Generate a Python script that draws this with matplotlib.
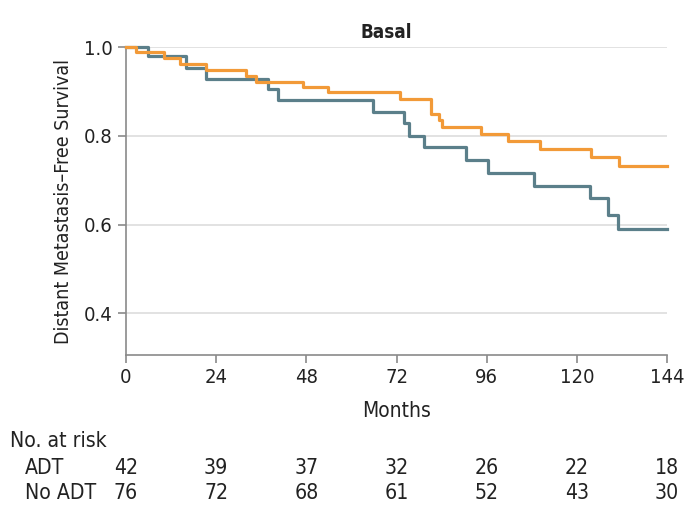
import matplotlib
matplotlib.use("Agg")
import matplotlib.pyplot as plt

plt.rcParams['font.family'] = ['DejaVu Sans']
plt.rcParams['font.stretch'] = 'condensed'

# Kaplan-Meier step points (months, survival)
adt_months = [0, 2.7, 10.1, 14.4, 21.3, 31.9, 34.5, 47.2, 53.7, 72.9, 81.2, 83.4, 84.2,
              94.4, 101.8, 110.2, 123.7, 131.3, 144]
adt_surv = [1.0, 0.988, 0.975, 0.961, 0.948, 0.935, 0.922, 0.910, 0.898, 0.882, 0.849,
            0.835, 0.820, 0.805, 0.788, 0.771, 0.753, 0.732, 0.732]

noadt_months = [0, 5.9, 16.0, 21.3, 37.9, 40.4, 65.8, 74.0, 75.2, 79.4, 90.4, 96.3,
                108.6, 123.5, 128.2, 131.0, 144]
noadt_surv = [1.0, 0.980, 0.953, 0.929, 0.905, 0.880, 0.854, 0.828, 0.800, 0.775,
              0.745, 0.717, 0.687, 0.659, 0.621, 0.591, 0.591]

risk_times = [0, 24, 48, 72, 96, 120, 144]
risk_adt = [42, 39, 37, 32, 26, 22, 18]
risk_noadt = [76, 72, 68, 61, 52, 43, 30]

orange = '#F29A38'
blue = '#5B7F8A'
gray = '#8a8a8a'
ink = '#222222'

fig = plt.figure(figsize=(6.9, 5.2), dpi=100)
ax = fig.add_axes([0.1826, 0.3173, 0.7841, 0.5923])

ax.step(noadt_months, noadt_surv, where='post', color=blue, lw=2.3, clip_on=False, zorder=3)
ax.step(adt_months, adt_surv, where='post', color=orange, lw=2.3, clip_on=False, zorder=4)

ax.set_xlim(0, 144)
ax.set_ylim(0.306, 1.0)
ax.set_xticks(risk_times)
ax.set_yticks([0.4, 0.6, 0.8, 1.0])
ax.set_yticklabels(['0.4', '0.6', '0.8', '1.0'])
ax.yaxis.grid(True, color='#dddddd', lw=1.2)
ax.set_axisbelow(True)

for s in ['top', 'right']:
    ax.spines[s].set_visible(False)
for s in ['left', 'bottom']:
    ax.spines[s].set_color(gray)
    ax.spines[s].set_linewidth(1.2)
ax.tick_params(colors=gray, length=6, width=1.2, labelsize=14.5, labelcolor=ink)

ax.set_ylabel('Distant Metastasis–Free Survival', fontsize=14, color=ink, labelpad=8)
ax.set_xlabel('Months', fontsize=15, color=ink, labelpad=10)
fig.text(386 / 690, 1 - 32 / 520, 'Basal', fontsize=13.5, fontweight='semibold',
         ha='center', va='center', color=ink)

# number at risk table
fs = 15.2
fig.text(10 / 690, 1 - 441 / 520, 'No. at risk', fontsize=fs, va='center', color=ink)
fig.text(25 / 690, 1 - 468 / 520, 'ADT', fontsize=fs, va='center', color=ink)
fig.text(25 / 690, 1 - 493 / 520, 'No ADT', fontsize=fs, va='center', color=ink)
for t, a, n in zip(risk_times, risk_adt, risk_noadt):
    xf = ax.transData.transform((t, 0))[0] / fig.bbox.width
    fig.text(xf, 1 - 468 / 520, str(a), fontsize=fs, ha='center', va='center', color=ink)
    fig.text(xf, 1 - 493 / 520, str(n), fontsize=fs, ha='center', va='center', color=ink)

fig.savefig('out.png', dpi=100)
